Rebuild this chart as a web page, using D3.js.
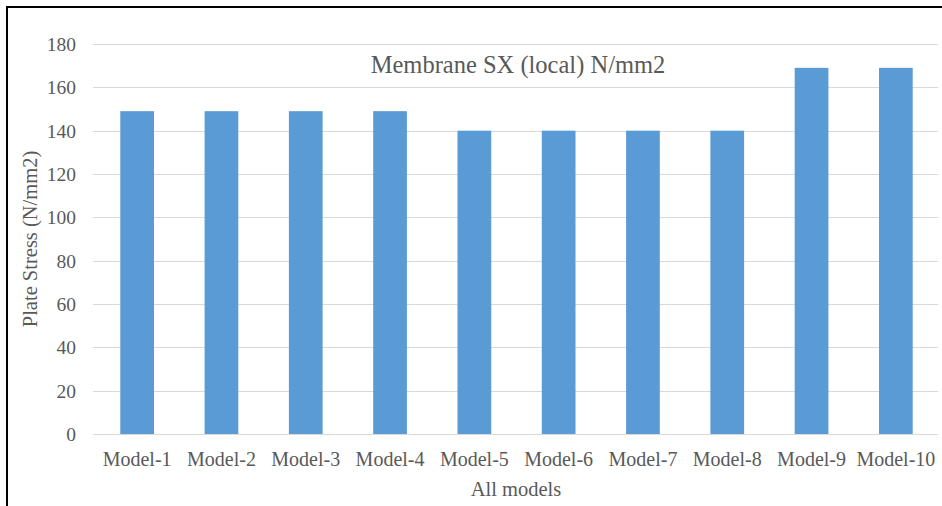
<!DOCTYPE html>
<html>
<head>
<meta charset="utf-8">
<script src="https://cdn.jsdelivr.net/npm/d3@7"></script>
<style>
  html, body { margin: 0; padding: 0; background: #fff; }
  svg { display: block; }
  text { font-family: "Liberation Serif", "Times New Roman", serif; fill: #595959; }
</style>
</head>
<body>
<svg id="chart" width="942" height="506"></svg>
<script>
// Plate stress per model (N/mm2)
const models = ["Model-1", "Model-2", "Model-3", "Model-4", "Model-5",
                "Model-6", "Model-7", "Model-8", "Model-9", "Model-10"];
const stress = [149, 149, 149, 149, 140, 140, 140, 140, 169, 169];
const yTicks = [0, 20, 40, 60, 80, 100, 120, 140, 160, 180];

const chartTitle = "Membrane SX (local) N/mm2";
const xTitle = "All models";
const yTitle = "Plate Stress (N/mm2)";

const svg = d3.select("#chart");
const W = 942, H = 506;
const plot = { left: 95, right: 938, top: 44, bottom: 434 };

const x = d3.scaleBand()
  .domain(models)
  .range([plot.left, plot.right])
  .paddingInner(0.6)
  .paddingOuter(0.3);

const y = d3.scaleLinear()
  .domain([0, 180])
  .range([plot.bottom, plot.top]);

// outer frame (left and top edges)
svg.append("path")
  .attr("d", `M7,${H} V7 H${W}`)
  .attr("fill", "none")
  .attr("stroke", "#000")
  .attr("stroke-width", 2);

// horizontal gridlines
svg.append("g")
  .selectAll("line")
  .data(yTicks)
  .join("line")
  .attr("x1", plot.left - 2)
  .attr("x2", plot.right)
  .attr("y1", d => Math.round(y(d)) + 0.5)
  .attr("y2", d => Math.round(y(d)) + 0.5)
  .attr("stroke", "#d9d9d9")
  .attr("stroke-width", 1);

// y axis tick labels
const yAxis = d3.axisLeft(y).tickValues(yTicks).tickSize(0).tickPadding(0);
const gy = svg.append("g")
  .attr("transform", `translate(76,0)`)
  .call(yAxis);
gy.select(".domain").remove();
gy.selectAll("text")
  .attr("font-size", 19.5)
  .attr("font-family", "Liberation Serif, Times New Roman, serif")
  .attr("fill", "#595959")
  .attr("dy", "0.34em");

// bars
svg.append("g")
  .selectAll("rect")
  .data(models.map((m, i) => ({ m, v: stress[i] })))
  .join("rect")
  .attr("x", d => x(d.m))
  .attr("width", x.bandwidth())
  .attr("y", d => y(d.v))
  .attr("height", d => y(0) - y(d.v))
  .attr("fill", "#5b9bd5");

// x axis category labels
const xAxis = d3.axisBottom(x).tickSize(0).tickPadding(0);
const gx = svg.append("g")
  .attr("transform", `translate(0,${plot.bottom})`)
  .call(xAxis);
gx.select(".domain").remove();
gx.selectAll("text")
  .attr("font-size", 20)
  .attr("font-family", "Liberation Serif, Times New Roman, serif")
  .attr("fill", "#595959")
  .attr("dy", null)
  .attr("y", 32);

// chart title
svg.append("text")
  .attr("x", 518)
  .attr("y", 73)
  .attr("text-anchor", "middle")
  .attr("font-size", 24.5)
  .text(chartTitle);

// x axis title
svg.append("text")
  .attr("x", 516)
  .attr("y", 496)
  .attr("text-anchor", "middle")
  .attr("font-size", 20.5)
  .text(xTitle);

// y axis title
svg.append("text")
  .attr("transform", `translate(37,${(plot.top + plot.bottom) / 2}) rotate(-90)`)
  .attr("text-anchor", "middle")
  .attr("font-size", 20.5)
  .text(yTitle);
</script>
</body>
</html>
